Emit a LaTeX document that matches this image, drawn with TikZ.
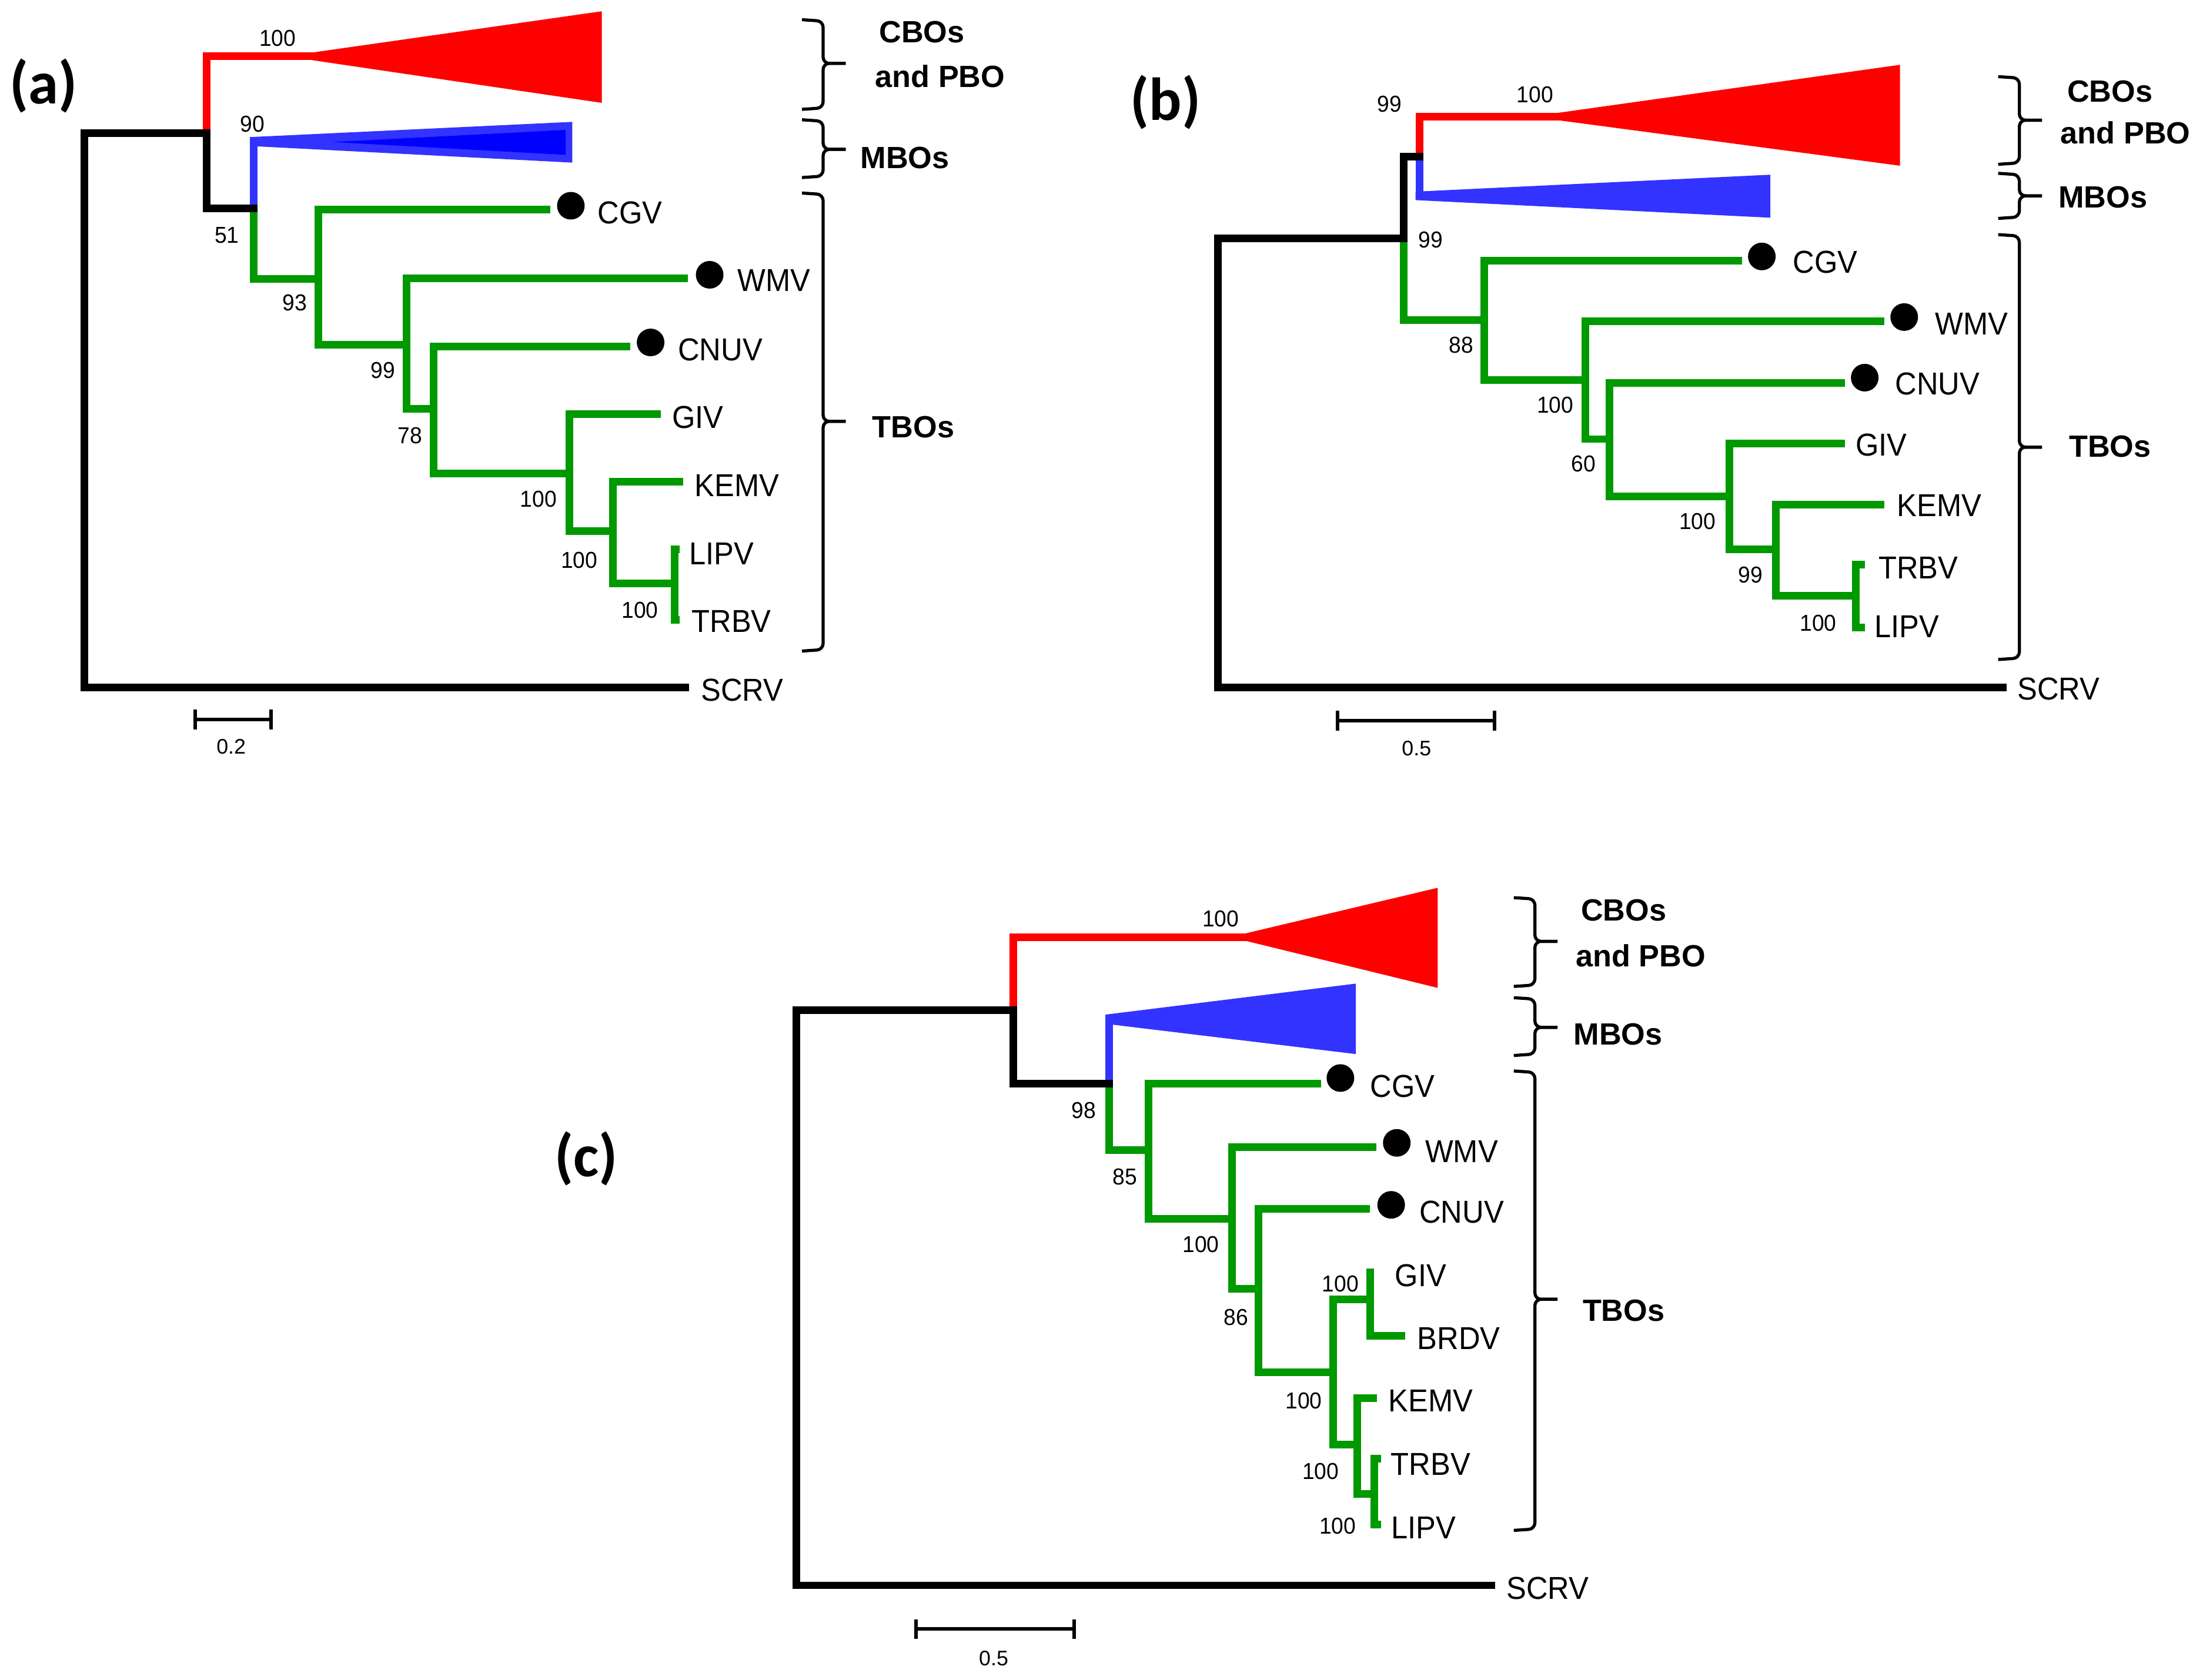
\documentclass[tikz,border=0pt]{standalone}
\usepackage{fontspec}
\usetikzlibrary{calc}
\setmainfont{Liberation Sans}
\newfontfamily\lblfont[FakeStretch=0.94]{Liberation Sans}
\newfontfamily\numfont[FakeStretch=0.95]{Liberation Sans}
\newfontfamily\panelfont{Carlito}
\definecolor{tgreen}{RGB}{0,153,0}
\definecolor{tred}{RGB}{255,0,0}
\definecolor{tblue}{RGB}{51,51,255}
\definecolor{tdblue}{RGB}{0,0,255}
\newcommand{\grpbrace}[4]{%
  \draw[brc] (#1-15,#2) -- (#1,#2+1) -- (#1,#3) -- (#1+16,#3);
  \draw[brc] (#1+16,#3) -- (#1,#3) -- (#1,#4-1) -- (#1-15,#4);}
\begin{document}
\begin{tikzpicture}[x=0.02cm,y=-0.02cm,
  br/.style={line width=0.108cm, line join=miter},
  blk/.style={br, black, line cap=rect},
  grn/.style={br, tgreen},
  redl/.style={br, tred},
  bluel/.style={br, tblue},
  brc/.style={line width=0.044cm, rounded corners=2.5pt},
  sbar/.style={line width=0.05cm},
  dot/.style={circle, fill=black, minimum size=0.392cm, inner sep=0pt},
  leaf/.style={font=\lblfont\fontsize{12.8}{14}\selectfont, inner sep=0pt},
  boot/.style={font=\numfont\fontsize{9.3}{11}\selectfont, inner sep=0pt},
  grp/.style={font=\bfseries\fontsize{12.4}{14}\selectfont, inner sep=0pt},
  pnl/.style={font=\panelfont\bfseries\fontsize{24.5}{28}\selectfont, inner sep=0pt},
  scl/.style={font=\fontsize{8.5}{10}\selectfont, inner sep=0pt}]
\useasboundingbox (0,0) rectangle (1563,1192);
\fill[white] (0,0) rectangle (1563,1192);

%%%%%%%%%%%%%%%% Panel (a)
\coordinate (aR) at (60,300);
\coordinate (a1) at (146.6,94.3);
\coordinate (a2) at (180,148);
\coordinate (a3) at (226,198);
\coordinate (a4) at (288.5,244.7);
\coordinate (a5) at (307.7,290);
\coordinate (a6) at (404,336);
\coordinate (a7) at (435,377);
\coordinate (a8) at (478.5,414);
\coordinate (aCBO) at (223.5,40);
\coordinate (aMBO) at (180,98);
\coordinate (aCGV) at (390.5,148.6);
\coordinate (aWMV) at (488,197.6);
\coordinate (aCNUV) at (447,246);
\coordinate (aGIV) at (469,294);
\coordinate (aKEMV) at (484.7,342);
\coordinate (aLIPV) at (482,390);
\coordinate (aTRBV) at (482,440);
\coordinate (aSCRV) at (486,488);

\fill[tred] (221.5,37.3) -- (427,8) -- (427,73) -- (221.5,42.7) -- cycle;
\fill[tblue] (177.3,97.3) -- (406,86.5) -- (406,115.4) -- (177.3,103.6) -- cycle;
\fill[tdblue] (236,100.8) -- (401.3,92.2) -- (401.3,109.9) -- cycle;

\draw[redl] (a1) |- (aCBO);
\draw[bluel] (a2) -- (aMBO);
\draw[grn] (a2) |- (a3);
\draw[grn] (a3) |- (aCGV);
\draw[grn] (a3) |- (a4);
\draw[grn] (a4) |- (aWMV);
\draw[grn] (a4) |- (a5);
\draw[grn] (a5) |- (aCNUV);
\draw[grn] (a5) |- (a6);
\draw[grn] (a6) |- (aGIV);
\draw[grn] (a6) |- (a7);
\draw[grn] (a7) |- (aKEMV);
\draw[grn] (a7) |- (a8);
\draw[grn] (a8) |- (aLIPV);
\draw[grn] (a8) |- (aTRBV);
\draw[blk] (a2) -| (a1) -| (aR) |- (aSCRV);

\node[dot] (aCGVd) at (405,146) {};
\node[dot] (aWMVd) at (503.5,195) {};
\node[dot] (aCNUVd) at (461.6,243) {};

\node[leaf] (aCGVt) at (447,151) {CGV};
\node[leaf] (aWMVt) at (549,199) {WMV};
\node[leaf] (aCNUVt) at (511,248) {CNUV};
\node[leaf] (aGIVt) at (495,296) {GIV};
\node[leaf] (aKEMVt) at (523,344.5) {KEMV};
\node[leaf] (aLIPVt) at (512,393) {LIPV};
\node[leaf] (aTRBVt) at (519,441) {TRBV};
\node[leaf] (aSCRVt) at (526.6,489.7) {SCRV};

\node[boot] (ab1) at (197,27) {100};
\node[boot] (ab2) at (179,88) {90};
\node[boot] (ab3) at (161,167) {51};
\node[boot] (ab4) at (209,215) {93};
\node[boot] (ab5) at (271.6,263) {99};
\node[boot] (ab6) at (291,309) {78};
\node[boot] (ab7) at (382,354) {100};
\node[boot] (ab8) at (411,397.5) {100};
\node[boot] (ab9) at (454,433) {100};

\coordinate (as1) at (138.4,510.6);
\coordinate (as2) at (192.3,510.6);
\draw[sbar] (as1) -- (as2);
\draw[sbar] ($(as1)+(0,-7)$) -- ($(as1)+(0,7)$);
\draw[sbar] ($(as2)+(0,-7)$) -- ($(as2)+(0,7)$);
\node[scl] (asl) at (164,530) {0.2};

\node[pnl] (apl) at (31,61) {(a)};
\grpbrace{584}{14}{45}{77.6}
\grpbrace{584}{85}{106}{126}
\grpbrace{584}{137}{299}{462}
\node[grp] (ag1) at (654,22.6) {CBOs};
\node[grp] (ag2) at (667,54) {and PBO};
\node[grp] (ag3) at (642,112) {MBOs};
\node[grp] (ag4) at (648,303) {TBOs};

%%%%%%%%%%%%%%%% Panel (b)
\coordinate (bR) at (864,330);
\coordinate (b1) at (996,169);
\coordinate (b2) at (1007,111);
\coordinate (bCBO) at (1108.5,82.7);
\coordinate (bMBO) at (1007,139);
\coordinate (b3) at (1053,227);
\coordinate (b4) at (1124.6,269.7);
\coordinate (b5) at (1142,311.6);
\coordinate (b6) at (1227,352.2);
\coordinate (b7) at (1260,389.8);
\coordinate (b8) at (1316.5,422.8);
\coordinate (bCGV) at (1236,185);
\coordinate (bWMV) at (1337,228);
\coordinate (bCNUV) at (1309,271.7);
\coordinate (bGIV) at (1309,314.6);
\coordinate (bKEMV) at (1337,358);
\coordinate (bTRBV) at (1323,400.5);
\coordinate (bLIPV) at (1323,445.4);
\coordinate (bSCRV) at (1421,488);

\fill[tred] (1106,80) -- (1348,46) -- (1348,117.6) -- (1106,85.4) -- cycle;
\fill[tblue] (1004.3,136) -- (1256,124) -- (1256,154.5) -- (1004.3,142) -- cycle;

\draw[redl] (b2) |- (bCBO);
\draw[bluel] (b2) -- (bMBO);
\draw[grn] (b1) |- (b3);
\draw[grn] (b3) |- (bCGV);
\draw[grn] (b3) |- (b4);
\draw[grn] (b4) |- (bWMV);
\draw[grn] (b4) |- (b5);
\draw[grn] (b5) |- (bCNUV);
\draw[grn] (b5) |- (b6);
\draw[grn] (b6) |- (bGIV);
\draw[grn] (b6) |- (b7);
\draw[grn] (b7) |- (bKEMV);
\draw[grn] (b7) |- (b8);
\draw[grn] (b8) |- (bTRBV);
\draw[grn] (b8) |- (bLIPV);
\draw[blk] (b2) -| (b1) -| (bR) |- (bSCRV);

\node[dot] (bCGVd) at (1250,182) {};
\node[dot] (bWMVd) at (1351,225) {};
\node[dot] (bCNUVd) at (1323,268) {};

\node[leaf] (bCGVt) at (1295,186) {CGV};
\node[leaf] (bWMVt) at (1399,229.8) {WMV};
\node[leaf] (bCNUVt) at (1374.6,272.4) {CNUV};
\node[leaf] (bGIVt) at (1334.7,315.6) {GIV};
\node[leaf] (bKEMVt) at (1376,358.9) {KEMV};
\node[leaf] (bTRBVt) at (1361,403) {TRBV};
\node[leaf] (bLIPVt) at (1353,444.7) {LIPV};
\node[leaf] (bSCRVt) at (1460.5,488.7) {SCRV};

\node[boot] (bb1) at (985.7,73.7) {99};
\node[boot] (bb2) at (1089,67) {100};
\node[boot] (bb3) at (1015,170) {99};
\node[boot] (bb4) at (1036.7,244.7) {88};
\node[boot] (bb5) at (1103.4,287.3) {100};
\node[boot] (bb6) at (1123.6,329) {60};
\node[boot] (bb7) at (1204.4,370) {100};
\node[boot] (bb8) at (1242,408) {99};
\node[boot] (bb9) at (1290,442) {100};

\coordinate (bs1) at (949,511.3);
\coordinate (bs2) at (1060.5,511.3);
\draw[sbar] (bs1) -- (bs2);
\draw[sbar] ($(bs1)+(0,-7)$) -- ($(bs1)+(0,7)$);
\draw[sbar] ($(bs2)+(0,-7)$) -- ($(bs2)+(0,7)$);
\node[scl] (bsl) at (1005,531) {0.5};

\node[pnl] (bpl) at (827,72.7) {(b)};
\grpbrace{1432.7}{54.4}{85.3}{116.6}
\grpbrace{1432.7}{123}{139}{155}
\grpbrace{1432.7}{166.5}{317.3}{468}
\node[grp] (bg1) at (1497,65) {CBOs};
\node[grp] (bg2) at (1508,94.3) {and PBO};
\node[grp] (bg3) at (1492,140) {MBOs};
\node[grp] (bg4) at (1497,317) {TBOs};

%%%%%%%%%%%%%%%% Panel (c)
\coordinate (cR) at (565,900);
\coordinate (c1) at (719,717);
\coordinate (c2) at (787,769);
\coordinate (cCBO) at (886,665);
\coordinate (cMBO) at (787,722);
\coordinate (c3) at (815,816);
\coordinate (c4) at (874,865);
\coordinate (c5) at (893,914.7);
\coordinate (c6) at (946,973.7);
\coordinate (c7) at (972,922);
\coordinate (c8) at (963,1025);
\coordinate (c9) at (975,1060);
\coordinate (cCGV) at (937.4,769);
\coordinate (cWMV) at (976.6,814);
\coordinate (cCNUV) at (972,858);
\coordinate (cGIV) at (972,900);
\coordinate (cBRDV) at (997,948);
\coordinate (cKEMV) at (977,992);
\coordinate (cTRBV) at (980,1035);
\coordinate (cLIPV) at (980,1082);
\coordinate (cSCRV) at (1058,1125);

\fill[tred] (884,662.3) -- (1020,630) -- (1020,701) -- (884,667.7) -- cycle;
\fill[tblue] (784.3,720) -- (962,698) -- (962,748) -- (784.3,726.5) -- cycle;

\draw[redl] (c1) |- (cCBO);
\draw[bluel] (c2) -- (cMBO);
\draw[grn] (c2) |- (c3);
\draw[grn] (c3) |- (cCGV);
\draw[grn] (c3) |- (c4);
\draw[grn] (c4) |- (cWMV);
\draw[grn] (c4) |- (c5);
\draw[grn] (c5) |- (cCNUV);
\draw[grn] (c5) |- (c6);
\draw[grn] (c6) |- (c7);
\draw[grn] (c6) |- (c8);
\draw[grn] (c7) -- (cGIV);
\draw[grn] (c7) |- (cBRDV);
\draw[grn] (c8) |- (cKEMV);
\draw[grn] (c8) |- (c9);
\draw[grn] (c9) |- (cTRBV);
\draw[grn] (c9) |- (cLIPV);
\draw[blk] (c2) -| (c1) -| (cR) |- (cSCRV);

\node[dot] (cCGVd) at (951,765) {};
\node[dot] (cWMVd) at (991,811) {};
\node[dot] (cCNUVd) at (987,855) {};

\node[leaf] (cCGVt) at (995,771) {CGV};
\node[leaf] (cWMVt) at (1037,817) {WMV};
\node[leaf] (cCNUVt) at (1037,860) {CNUV};
\node[leaf] (cGIVt) at (1008,905) {GIV};
\node[leaf] (cBRDVt) at (1035,950) {BRDV};
\node[leaf] (cKEMVt) at (1015,994) {KEMV};
\node[leaf] (cTRBVt) at (1015,1039) {TRBV};
\node[leaf] (cLIPVt) at (1010,1084) {LIPV};
\node[leaf] (cSCRVt) at (1098,1127) {SCRV};

\node[boot] (cb1) at (866,652) {100};
\node[boot] (cb2) at (769,788) {98};
\node[boot] (cb3) at (798,835) {85};
\node[boot] (cb4) at (852,883) {100};
\node[boot] (cb5) at (877,935) {86};
\node[boot] (cb6) at (951,911) {100};
\node[boot] (cb7) at (925,994) {100};
\node[boot] (cb8) at (937,1044) {100};
\node[boot] (cb9) at (949,1083) {100};

\coordinate (cs1) at (650,1156);
\coordinate (cs2) at (762,1156);
\draw[sbar] (cs1) -- (cs2);
\draw[sbar] ($(cs1)+(0,-7)$) -- ($(cs1)+(0,7)$);
\draw[sbar] ($(cs2)+(0,-7)$) -- ($(cs2)+(0,7)$);
\node[scl] (csl) at (705,1177) {0.5};

\node[pnl] (cpl) at (416,822) {(c)};
\grpbrace{1089}{637}{668}{700}
\grpbrace{1089}{708}{729}{749}
\grpbrace{1089}{760}{922}{1086}
\node[grp] (cg1) at (1152,646) {CBOs};
\node[grp] (cg2) at (1164,678) {and PBO};
\node[grp] (cg3) at (1148,734) {MBOs};
\node[grp] (cg4) at (1152,930) {TBOs};
\end{tikzpicture}
\end{document}
